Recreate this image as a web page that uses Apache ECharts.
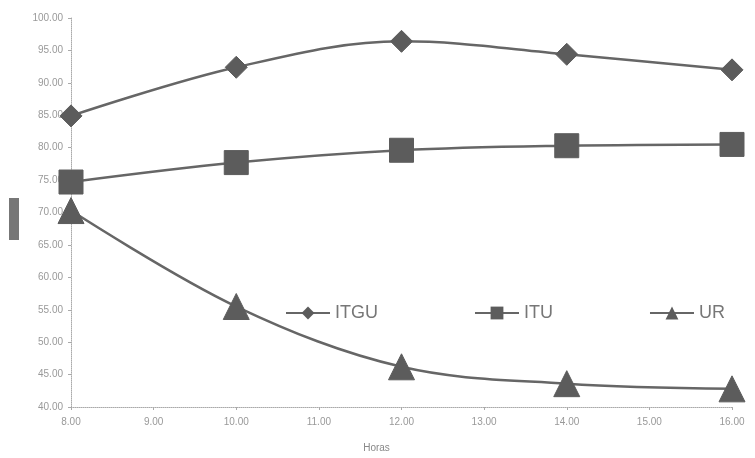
<!DOCTYPE html>
<html>
<head>
<meta charset="utf-8">
<script src="https://cdn.jsdelivr.net/npm/echarts@6/dist/echarts.min.js"></script>
<style>
  html, body { margin: 0; padding: 0; background: #fff; }
  #chart { width: 755px; height: 458px; }
</style>
</head>
<body>
<div id="chart"></div>
<script>
// Hours of measurement
const horas = [8, 10, 12, 14, 16];
// Index values per hour
const itgu = [84.9, 92.4, 96.4, 94.4, 92.0];
const itu = [74.7, 77.7, 79.6, 80.3, 80.5];
const ur = [70.3, 55.5, 46.2, 43.6, 42.8];

const lineColor = '#666';
const markColor = '#5c5c5c';

function pairs(vals) {
  return horas.map((h, i) => [h, vals[i]]);
}

function serie(name, vals, symbol, size) {
  return {
    name: name,
    type: 'line',
    data: pairs(vals),
    smooth: 0.35,
    symbol: symbol,
    symbolSize: size,
    showAllSymbol: true,
    lineStyle: { color: lineColor, width: 2.5 },
    itemStyle: { color: markColor, borderColor: markColor },
    emphasis: { disabled: true }
  };
}

const chart = echarts.init(document.getElementById('chart'));
chart.setOption({
  animation: false,
  backgroundColor: '#fff',
  grid: { left: 71, right: 23, top: 18, bottom: 48 },
  xAxis: {
    type: 'value',
    min: 8, max: 16, interval: 1,
    name: 'Horas',
    nameLocation: 'middle',
    nameGap: 36,
    nameTextStyle: { color: '#888', fontSize: 10, fontFamily: 'Liberation Sans', padding: [0, 50, 0, 0] },
    axisLine: { lineStyle: { color: '#aaa', type: 'dotted', width: 1 } },
    axisTick: { show: true, length: 3, lineStyle: { color: '#aaa' } },
    axisLabel: { color: '#999', fontSize: 10, fontFamily: 'Liberation Sans', margin: 10,
      formatter: v => v.toFixed(2) },
    splitLine: { show: false }
  },
  yAxis: {
    type: 'value',
    min: 40, max: 100, interval: 5,
    axisLine: { show: true, lineStyle: { color: '#aaa', type: 'dotted', width: 1 } },
    axisTick: { show: true, length: 3, lineStyle: { color: '#aaa' } },
    axisLabel: { color: '#999', fontSize: 10, fontFamily: 'Liberation Sans', margin: 8,
      formatter: v => v.toFixed(2) },
    splitLine: { show: false }
  },
  legend: {
    left: 280,
    top: 299,
    itemGap: 96,
    itemWidth: 44,
    itemHeight: 16,
    textStyle: { color: '#777', fontSize: 18, fontFamily: 'Liberation Sans' },
    data: ['ITGU', 'ITU', 'UR']
  },
  graphic: [{
    type: 'rect',
    shape: { x: 9, y: 198, width: 10, height: 42 },
    style: { fill: '#777' }
  }],
  series: [
    serie('ITGU', itgu, 'diamond', 22),
    serie('ITU', itu, 'rect', 24),
    serie('UR', ur, 'triangle', 26)
  ]
});
</script>
</body>
</html>
